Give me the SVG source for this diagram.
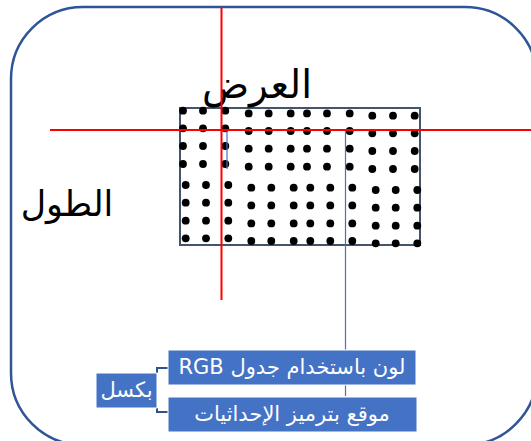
<svg xmlns="http://www.w3.org/2000/svg" width="531" height="441" viewBox="0 0 531 441">
<style>
.frame{fill:none;stroke:#2F5597;stroke-width:2.5}
.grid{fill:#fff;stroke:#44546A;stroke-width:2}
.d{fill:#000}
.red{stroke:#FF0000;stroke-width:2;fill:none}
.blue{stroke:#4472C4;stroke-width:1.2;fill:none}
.brk{stroke:#2F528F;stroke-width:2;fill:none}
.box{fill:#4472C4;stroke:#fff;stroke-width:1}
.big{font-family:"DejaVu Sans","Liberation Sans",sans-serif;font-size:39px;fill:#000;text-anchor:middle}
.big2{font-family:"DejaVu Sans","Liberation Sans",sans-serif;font-size:35px;fill:#000;text-anchor:middle}
.lbl{font-family:"DejaVu Sans","Liberation Sans",sans-serif;font-size:21px;fill:#fff;text-anchor:middle}
</style>
<defs><circle id="c" r="3.9"/></defs>
<rect class="frame" x="11" y="7" width="526" height="438" rx="72" ry="72"/>
<g id="grid">
<rect class="grid" x="180" y="108" width="240" height="137"/>
<g class="d">
<use href="#c" x="183" y="110.7"/><use href="#c" x="203" y="110.7"/><use href="#c" x="225.3" y="110.7"/><use href="#c" x="248.7" y="113.4"/><use href="#c" x="268.7" y="113.4"/><use href="#c" x="290.7" y="113.4"/><use href="#c" x="307" y="113.4"/><use href="#c" x="327" y="113.4"/><use href="#c" x="349.7" y="113.4"/><use href="#c" x="372.3" y="115.7"/><use href="#c" x="393" y="115.7"/><use href="#c" x="414.7" y="115.7"/>
<use href="#c" x="183" y="128.3"/><use href="#c" x="203" y="128.3"/><use href="#c" x="225.3" y="128.3"/><use href="#c" x="248.7" y="131"/><use href="#c" x="268.7" y="131"/><use href="#c" x="290.7" y="131"/><use href="#c" x="307" y="131"/><use href="#c" x="327" y="131"/><use href="#c" x="349.7" y="131"/><use href="#c" x="372.3" y="133.3"/><use href="#c" x="393" y="133.3"/><use href="#c" x="414.7" y="133.3"/>
<use href="#c" x="183" y="146"/><use href="#c" x="203" y="146"/><use href="#c" x="225.3" y="146"/><use href="#c" x="248.7" y="148.7"/><use href="#c" x="268.7" y="148.7"/><use href="#c" x="290.7" y="148.7"/><use href="#c" x="307" y="148.7"/><use href="#c" x="327" y="148.7"/><use href="#c" x="349.7" y="148.7"/><use href="#c" x="372.3" y="151"/><use href="#c" x="393" y="151"/><use href="#c" x="414.7" y="151"/>
<use href="#c" x="183" y="164"/><use href="#c" x="203" y="164"/><use href="#c" x="225.3" y="164"/><use href="#c" x="248.7" y="166.7"/><use href="#c" x="268.7" y="166.7"/><use href="#c" x="290.7" y="166.7"/><use href="#c" x="307" y="166.7"/><use href="#c" x="327" y="166.7"/><use href="#c" x="349.7" y="166.7"/><use href="#c" x="372.3" y="169"/><use href="#c" x="393" y="169"/><use href="#c" x="414.7" y="169"/>
<use href="#c" x="185.7" y="185"/><use href="#c" x="206" y="185"/><use href="#c" x="228.3" y="185"/><use href="#c" x="251.3" y="187.7"/><use href="#c" x="271.3" y="187.7"/><use href="#c" x="293.7" y="187.7"/><use href="#c" x="310.3" y="187.7"/><use href="#c" x="330.3" y="187.7"/><use href="#c" x="352.3" y="187.7"/><use href="#c" x="375.7" y="190"/><use href="#c" x="395.7" y="190"/><use href="#c" x="417.3" y="190"/>
<use href="#c" x="185.7" y="202.7"/><use href="#c" x="206" y="202.7"/><use href="#c" x="228.3" y="202.7"/><use href="#c" x="251.3" y="205.4"/><use href="#c" x="271.3" y="205.4"/><use href="#c" x="293.7" y="205.4"/><use href="#c" x="310.3" y="205.4"/><use href="#c" x="330.3" y="205.4"/><use href="#c" x="352.3" y="205.4"/><use href="#c" x="375.7" y="207.7"/><use href="#c" x="395.7" y="207.7"/><use href="#c" x="417.3" y="207.7"/>
<use href="#c" x="185.7" y="220.7"/><use href="#c" x="206" y="220.7"/><use href="#c" x="228.3" y="220.7"/><use href="#c" x="251.3" y="223.4"/><use href="#c" x="271.3" y="223.4"/><use href="#c" x="293.7" y="223.4"/><use href="#c" x="310.3" y="223.4"/><use href="#c" x="330.3" y="223.4"/><use href="#c" x="352.3" y="223.4"/><use href="#c" x="375.7" y="225.7"/><use href="#c" x="395.7" y="225.7"/><use href="#c" x="417.3" y="225.7"/>
<use href="#c" x="185.7" y="238.3"/><use href="#c" x="206" y="238.3"/><use href="#c" x="228.3" y="238.3"/><use href="#c" x="251.3" y="241"/><use href="#c" x="271.3" y="241"/><use href="#c" x="293.7" y="241"/><use href="#c" x="310.3" y="241"/><use href="#c" x="330.3" y="241"/><use href="#c" x="352.3" y="241"/><use href="#c" x="375.7" y="243.3"/><use href="#c" x="395.7" y="243.3"/><use href="#c" x="417.3" y="243.3"/>
</g>
</g>
<g id="width-label"><text class="big" x="257" y="98" direction="rtl">العرض</text></g>
<g id="height-label"><text class="big2" x="67" y="216" direction="rtl">الطول</text></g>
<g id="connectors">
<path class="blue" d="M227 169V129.5H345.5V396"/>
<path class="brk" d="M157 373V368H168M157 408V412H168"/>
</g>
<g id="axes">
<line class="red" x1="221.5" y1="8" x2="221.5" y2="300"/>
<line class="red" x1="50" y1="130" x2="531" y2="130"/>
</g>
<g id="pixel"><rect class="box" x="96" y="373" width="61" height="35"/><text class="lbl" x="126.5" y="397" direction="rtl">بكسل</text></g>
<g id="color"><rect class="box" x="168" y="350" width="248" height="35"/><text class="lbl" x="292" y="374" direction="rtl">لون باستخدام جدول RGB</text></g>
<g id="position"><rect class="box" x="168" y="397" width="249" height="35"/><text class="lbl" x="292" y="421" direction="rtl">موقع بترميز الإحداثيات</text></g>
</svg>
